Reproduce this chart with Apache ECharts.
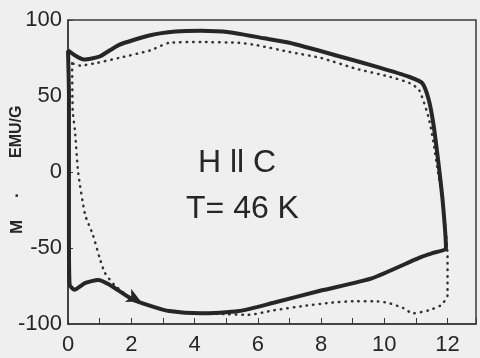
<!DOCTYPE html>
<html>
<head>
<meta charset="utf-8">
<script src="https://cdn.jsdelivr.net/npm/echarts@6/dist/echarts.min.js"></script>
<style>
  html, body { margin: 0; padding: 0; background: #efefef; }
  #chart { width: 480px; height: 358px; }
</style>
</head>
<body>
<div id="chart"></div>
<script>
// solid loop (field up then down)
const solidX = [0, 0.2, 0.5, 1.0, 1.6, 2.6, 3.4, 4.2, 5.1, 6.2, 7.0, 8.6, 9.8, 10.8, 11.2, 11.4, 11.55, 11.7, 11.85, 11.95,
  11.5, 11.1, 9.6, 8.0, 6.5, 5.4, 4.2, 3.2, 2.6, 2.05, 1.3, 0.95, 0.55, 0.2, 0.05, 0.03, 0.03, 0.03, 0];
const solidY = [80, 77, 74, 76, 83.5, 90, 92.5, 93, 92, 88, 85, 76, 69, 62.5, 58.5, 48, 32, 8, -20, -50,
  -53.5, -56.5, -70, -78, -86, -91.5, -93, -91.5, -88, -84, -74, -71, -73, -77.5, -74, -40, 0, 50, 80];

// dotted loop
const dotX = [0.13, 0.15, 0.22, 0.32, 0.54, 0.79, 1.0, 1.17, 1.5, 2.0, 2.6, 3.2, 4.2, 5.0, 5.7, 6.5, 7.5, 8.3, 9.1, 9.7,
  10.1, 10.6, 10.9, 11.4, 11.8, 12.0, 12.0, 11.95, 11.85, 11.67, 11.55, 11.4, 11.1, 10.8, 10.2, 9.1, 8.0, 7.0, 5.95, 5.4,
  4.2, 3.2, 2.6, 1.6, 0.85, 0.38, 0.13];
const dotY = [71.5, 40, 27, 0, -28, -41.5, -56.5, -66.5, -75, -83, -88, -91.5, -93, -93.5, -94, -91, -88, -86, -85, -85,
  -86, -89.5, -93, -91, -87.5, -81, -55, -40, -20, 3.5, 20, 36, 54, 58.5, 62.5, 68, 75, 79, 83.5, 85,
  85.5, 85, 80, 75, 71.5, 70, 71.5];

const xTicks = [0, 2, 4, 6, 8, 10, 12];
const yTicks = [-100, -50, 0, 50, 100];

const ink = '#262626';
const font = 'Liberation Sans, Arial, sans-serif';
const chart = echarts.init(document.getElementById('chart'));

chart.setOption({
  backgroundColor: '#efefef',
  animation: false,
  grid: { left: 68, right: 4, top: 20, bottom: 34, show: true, borderColor: '#3a3a3a', borderWidth: 1.5 },
  xAxis: {
    type: 'value',
    min: xTicks[0],
    max: 12.9,
    interval: 2,
    axisLine: { show: true, onZero: false, lineStyle: { color: '#3a3a3a', width: 1.5 } },
    axisTick: { show: true, inside: true, length: 6, lineStyle: { color: '#3a3a3a' } },
    minorTick: { show: true, splitNumber: 2, length: 6, lineStyle: { color: '#3a3a3a' } },
    splitLine: { show: false },
    axisLabel: {
      margin: 10, fontSize: 22, color: ink, fontFamily: font,
      formatter: v => (xTicks.includes(v) ? String(v) : '')
    }
  },
  yAxis: {
    type: 'value',
    min: yTicks[0],
    max: yTicks[yTicks.length - 1],
    interval: 50,
    axisLine: { show: true, onZero: false, lineStyle: { color: '#3a3a3a', width: 1.5 } },
    axisTick: { show: true, inside: true, length: 5, lineStyle: { color: '#3a3a3a' } },
    splitLine: { show: false },
    axisLabel: { margin: 6, fontSize: 22, color: ink, fontFamily: font }
  },
  series: [
    {
      type: 'line',
      data: dotX.map((x, i) => [x, dotY[i]]),
      showSymbol: false,
      smooth: 0.2,
      lineStyle: { color: '#333', width: 2.5, type: [0.5, 6], cap: 'round' },
      z: 2
    },
    {
      type: 'line',
      data: solidX.map((x, i) => [x, solidY[i]]),
      showSymbol: false,
      smooth: 0.2,
      lineStyle: { color: ink, width: 4 },
      markPoint: {
        symbol: 'arrow',
        symbolSize: [11, 14],
        symbolRotate: -115,
        itemStyle: { color: ink },
        label: { show: false },
        data: [{ coord: [2.3, -85] }]
      },
      z: 3
    }
  ],
  graphic: [
    { type: 'text', left: 198, top: 147, style: { text: 'H ll C', fontSize: 32, fill: ink, fontFamily: font } },
    { type: 'text', left: 186, top: 193, style: { text: 'T= 46 K', fontSize: 32, fill: ink, fontFamily: font } },
    { type: 'text', x: 9, y: 234, rotation: Math.PI / 2, style: { text: 'M', fontSize: 17, fontWeight: 'bold', fill: ink, fontFamily: font } },
    { type: 'text', x: 9, y: 198, rotation: Math.PI / 2, style: { text: '·', fontSize: 17, fontWeight: 'bold', fill: ink, fontFamily: font } },
    { type: 'text', x: 9, y: 158, rotation: Math.PI / 2, style: { text: 'EMU/G', fontSize: 16, fontWeight: 'bold', fill: ink, fontFamily: font } }
  ]
});
</script>
</body>
</html>
